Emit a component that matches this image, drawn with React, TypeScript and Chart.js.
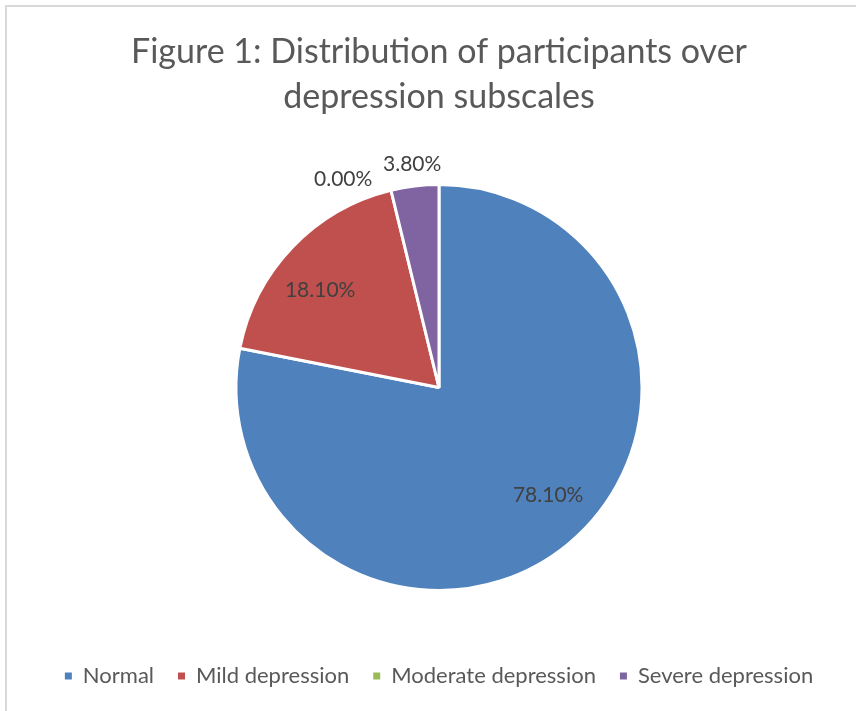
import React, { useEffect, useRef } from "react";
import { Chart, registerables } from "chart.js";

Chart.register(...registerables);

const categories = ["Normal", "Mild depression", "Moderate depression", "Severe depression"];
const values = [78.1, 18.1, 0.0, 3.8];
const valueLabels = ["78.10%", "18.10%", "0.00%", "3.80%"];
const colors = ["#4F81BD", "#C0504D", "#9BBB59", "#8064A2"];
const titleLines = ["Figure 1: Distribution of participants over", "depression subscales"];

// label placement (style): radial factor and angular offset (deg)
const labelRadial = [0.755, 0.756, 1.13, 1.11];
const labelAngle = [-6, -4.5, -11, 0];

const FONT = "Lato, 'Open Sans', sans-serif";

const framePlugin = {
  id: "frame",
  beforeDraw(chart: any) {
    const { ctx, width, height } = chart;
    ctx.save();
    ctx.fillStyle = "#ffffff";
    ctx.fillRect(0, 0, width, height);
    ctx.strokeStyle = "#d9d9d9";
    ctx.lineWidth = 2;
    ctx.beginPath();
    ctx.moveTo(6, height);
    ctx.lineTo(6, 6);
    ctx.lineTo(width, 6);
    ctx.stroke();
    ctx.restore();
  },
};

const labelPlugin = {
  id: "sliceLabels",
  afterDatasetsDraw(chart: any) {
    const { ctx } = chart;
    const meta = chart.getDatasetMeta(0);
    ctx.save();
    ctx.font = `21px ${FONT}`;
    ctx.fillStyle = "#404040";
    ctx.textAlign = "center";
    ctx.textBaseline = "middle";
    meta.data.forEach((arc: any, i: number) => {
      const p = arc.getProps(["x", "y", "startAngle", "endAngle", "outerRadius"], true);
      const mid = (p.startAngle + p.endAngle) / 2 + (labelAngle[i] * Math.PI) / 180;
      const r = p.outerRadius * labelRadial[i];
      ctx.fillText(valueLabels[i], p.x + Math.cos(mid) * r, p.y + Math.sin(mid) * r);
    });
    ctx.restore();
  },
};

export default function App() {
  const ref = useRef<HTMLCanvasElement | null>(null);
  useEffect(() => {
    document.body.style.margin = "0";
    const defaultLabels = (Chart as any).overrides.pie.plugins.legend.labels.generateLabels;
    const chart = new Chart(ref.current as HTMLCanvasElement, {
      type: "pie",
      data: {
        labels: categories,
        datasets: [
          {
            data: values,
            backgroundColor: colors,
            borderColor: "#ffffff",
            borderWidth: 3,
            radius: 203,
          } as any,
        ],
      },
      options: {
        animation: false,
        responsive: false,
        layout: { padding: { left: 22, right: 0, top: 0, bottom: 14 } },
        plugins: {
          title: {
            display: true,
            text: titleLines,
            color: "#595959",
            font: { family: FONT, size: 34, weight: "normal", lineHeight: 1.3235 },
            padding: { top: 30, bottom: 14 },
          },
          legend: {
            position: "bottom",
            labels: {
              boxWidth: 7,
              boxHeight: 7,
              color: "#595959",
              font: { family: FONT, size: 22 },
              padding: 24,
              generateLabels: (c: any) =>
                defaultLabels(c).map((l: any) => ({ ...l, lineWidth: 0, strokeStyle: l.fillStyle })),
            },
          },
          tooltip: { enabled: false },
        },
      },
      plugins: [framePlugin, labelPlugin],
    });
    return () => chart.destroy();
  }, []);
  return <canvas ref={ref} width={856} height={711} style={{ display: "block" }} />;
}
